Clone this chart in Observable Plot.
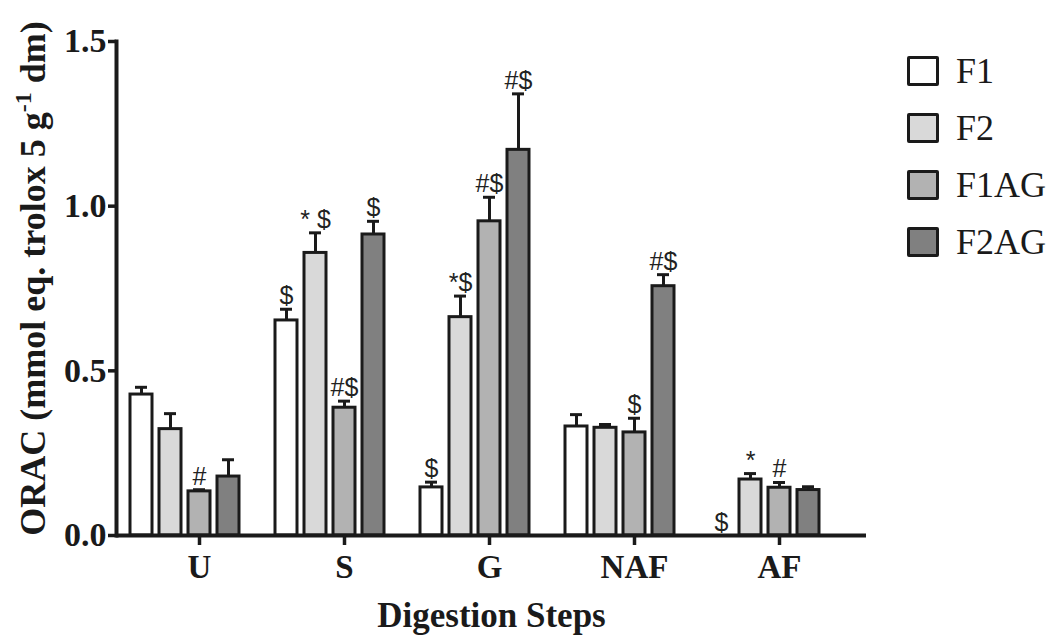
<!DOCTYPE html>
<html>
<head>
<meta charset="utf-8">
<script src="https://cdn.jsdelivr.net/npm/d3@7"></script>
<script src="https://cdn.jsdelivr.net/npm/@observablehq/plot@0.6"></script>
<style>
  html, body { margin: 0; padding: 0; background: #fff; }
  #wrap { position: relative; width: 1046px; height: 638px; overflow: hidden; }
  #legend { position: absolute; left: 907px; top: 56px; color: #1a1a1a; }
  .item { display: flex; align-items: center; height: 30px; margin-bottom: 27px; }
  .sw { width: 26px; height: 24px; border: 3px solid #1a1a1a; border-radius: 2px; }
  .lab { margin-left: 17px; font-family: "Liberation Serif", "Times New Roman", serif; font-size: 36px; line-height: 30px; }
</style>
</head>
<body>
<div id="wrap"><div id="legend"></div></div>
<script>
// ---- data ----
const groups = ["U", "S", "G", "NAF", "AF"];
const series = ["F1", "F2", "F1AG", "F2AG"];
const fills = ["#ffffff", "#d9d9d9", "#b2b2b2", "#808080"];

const F1   = [0.428, 0.653, 0.146, 0.331, 0.0];
const F2   = [0.323, 0.858, 0.663, 0.327, 0.170];
const F1AG = [0.134, 0.388, 0.954, 0.313, 0.145];
const F2AG = [0.179, 0.914, 1.171, 0.757, 0.138];

const F1err   = [0.022, 0.034, 0.016, 0.036, 0.0];
const F2err   = [0.047, 0.061, 0.064, 0.010, 0.018];
const F1AGerr = [0.005, 0.020, 0.073, 0.043, 0.016];
const F2AGerr = [0.051, 0.040, 0.170, 0.035, 0.010];

const F1lab   = ["", "$", "$", "", "$"];
const F2lab   = ["", "* $", "*$", "", "*"];
const F1AGlab = ["#", "#$", "#$", "$", "#"];
const F2AGlab = ["", "$", "#$", "#$", ""];

const yTicks = [0, 0.5, 1.0, 1.5];
const yTitle = "ORAC (mmol eq. trolox 5 g-1 dm)";
const xTitle = "Digestion Steps";

// ---- build table ----
const vals = [F1, F2, F1AG, F2AG];
const errs = [F1err, F2err, F1AGerr, F2AGerr];
const labs = [F1lab, F2lab, F1AGlab, F2AGlab];
const keys = [];
groups.forEach((g, i) => {
  if (i > 0) keys.push("gap" + i);
  series.forEach(s => keys.push(g + "|" + s));
});
const rows = [];
groups.forEach((g, i) => series.forEach((s, j) => rows.push({
  key: g + "|" + s, group: g, series: s,
  value: vals[j][i], err: errs[j][i], label: labs[j][i]
})));

const ink = "#1a1a1a";
const chart = Plot.plot({
  width: 1046, height: 638,
  marginLeft: 116, marginRight: 180, marginTop: 41, marginBottom: 103,
  style: { fontFamily: "Liberation Serif, serif", color: ink, background: "white", overflow: "visible" },
  x: { type: "band", domain: keys, range: [121.5, 827.5], paddingInner: 0.227, paddingOuter: 0, axis: null },
  y: { domain: [0, 1.5], axis: null },
  color: { domain: series, range: fills, legend: false },
  marks: [
    Plot.barY(rows.filter(d => d.value > 0), { x: "key", y: "value", fill: "series", stroke: ink, strokeWidth: 3 }),
    Plot.ruleX(rows.filter(d => d.err > 0), { x: "key", y1: "value", y2: d => d.value + d.err, stroke: ink, strokeWidth: 3 }),
    Plot.tickY(rows.filter(d => d.err > 0), { x: "key", y: d => d.value + d.err, insetLeft: 5, insetRight: 5, stroke: ink, strokeWidth: 3 }),
    Plot.text(rows.filter(d => d.label), { x: "key", y: d => d.value + d.err, text: "label", lineAnchor: "bottom", dy: -5, fontSize: 25, fontFamily: "Liberation Sans, Arial, sans-serif", fill: "#222" }),
    Plot.ruleY([0], { stroke: ink, strokeWidth: 4 }),
    Plot.frame({ anchor: "left", stroke: ink, strokeWidth: 4 }),
    Plot.axisY({ ticks: yTicks, tickFormat: d3.format(".1f"), tickSize: 8, tickPadding: 2, fontSize: 34, fontWeight: "bold", strokeWidth: 3.5, label: null }),
    Plot.axisX({ ticks: groups.map(g => g + "|F1AG"), tickFormat: k => k.split("|")[0], tickSize: 10, tickPadding: 9, fontSize: 33, fontWeight: "bold", strokeWidth: 3.5, label: null }),
    Plot.text([yTitle], { text: d => d, frameAnchor: "left", textAnchor: "middle", lineAnchor: "middle", rotate: -90, dx: -83, dy: -10, fontSize: 36, fontWeight: "bold", fill: ink }),
    Plot.text([xTitle], { text: d => d, frameAnchor: "bottom", lineAnchor: "middle", dy: 80, fontSize: 35, fontWeight: "bold", fill: ink })
  ]
});
document.getElementById("wrap").prepend(chart);

// superscript in y title
chart.querySelectorAll("text").forEach(t => {
  if (t.textContent === yTitle) {
    const parts = yTitle.split("g-1");
    t.textContent = "";
    const ns = "http://www.w3.org/2000/svg";
    const a = document.createElementNS(ns, "tspan"); a.textContent = parts[0] + "g";
    const b = document.createElementNS(ns, "tspan"); b.textContent = "-1"; b.setAttribute("dy", "-14"); b.setAttribute("font-size", "24");
    const c = document.createElementNS(ns, "tspan"); c.textContent = " " + parts[1].trim(); c.setAttribute("dy", "14");
    t.append(a, b, c);
  }
});

// legend
const leg = d3.select("#legend");
series.forEach((s, j) => {
  const it = leg.append("div").attr("class", "item");
  it.append("div").attr("class", "sw").style("background", fills[j]);
  it.append("div").attr("class", "lab").text(s);
});
</script>
</body>
</html>
